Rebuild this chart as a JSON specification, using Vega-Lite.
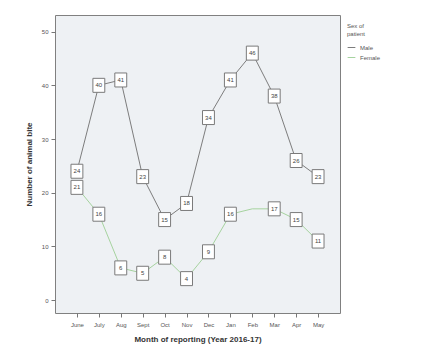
{
  "$schema": "https://vega.github.io/schema/vega-lite/v6.json",
  "width": 285,
  "height": 298,
  "autosize": {"type": "none"},
  "padding": {"left": 55, "top": 15, "right": 104, "bottom": 47},
  "background": "#ffffff",
  "config": {
    "view": {"fill": "#eef1f4", "stroke": "#808080", "strokeWidth": 1},
    "font": "Liberation Sans",
    "axis": {"grid": false, "domain": false, "tickColor": "#777777", "tickSize": 4, "labelFontSize": 6, "labelColor": "#555555", "titleFontSize": 8, "titleFontWeight": "bold", "titleColor": "#333333"}
  },
  "data": {
    "values": [
      {"month": "June", "sex": "Male", "n": 24},
      {"month": "July", "sex": "Male", "n": 40},
      {"month": "Aug", "sex": "Male", "n": 41},
      {"month": "Sept", "sex": "Male", "n": 23},
      {"month": "Oct", "sex": "Male", "n": 15},
      {"month": "Nov", "sex": "Male", "n": 18},
      {"month": "Dec", "sex": "Male", "n": 34},
      {"month": "Jan", "sex": "Male", "n": 41},
      {"month": "Feb", "sex": "Male", "n": 46},
      {"month": "Mar", "sex": "Male", "n": 38},
      {"month": "Apr", "sex": "Male", "n": 26},
      {"month": "May", "sex": "Male", "n": 23},
      {"month": "June", "sex": "Female", "n": 21},
      {"month": "July", "sex": "Female", "n": 16},
      {"month": "Aug", "sex": "Female", "n": 6},
      {"month": "Sept", "sex": "Female", "n": 5},
      {"month": "Oct", "sex": "Female", "n": 8},
      {"month": "Nov", "sex": "Female", "n": 4},
      {"month": "Dec", "sex": "Female", "n": 9},
      {"month": "Jan", "sex": "Female", "n": 16},
      {"month": "Feb", "sex": "Female", "n": 17},
      {"month": "Mar", "sex": "Female", "n": 17},
      {"month": "Apr", "sex": "Female", "n": 15},
      {"month": "May", "sex": "Female", "n": 11}
    ]
  },
  "encoding": {
    "x": {
      "field": "month", "type": "ordinal",
      "sort": ["June", "July", "Aug", "Sept", "Oct", "Nov", "Dec", "Jan", "Feb", "Mar", "Apr", "May"],
      "scale": {"type": "point", "padding": 1.22},
      "axis": {"title": "Month of reporting (Year 2016-17)", "labelAngle": 0, "labelPadding": 4, "titlePadding": 8}
    },
    "y": {
      "field": "n", "type": "quantitative",
      "scale": {"domain": [-2.4, 53.1], "nice": false, "zero": false},
      "axis": {"title": "Number of animal bite", "values": [0, 10, 20, 30, 40, 50], "labelPadding": 3, "titlePadding": 8}
    }
  },
  "layer": [
    {
      "mark": {"type": "line", "strokeWidth": 1},
      "encoding": {
        "color": {
          "field": "sex", "type": "nominal",
          "scale": {"domain": ["Male", "Female"], "range": ["#7d7d7d", "#a6d39f"]},
          "legend": {
            "title": ["Sex of", "patient"], "orient": "none", "legendX": 292, "legendY": 8,
            "symbolType": "stroke", "symbolSize": 60, "symbolStrokeWidth": 1,
            "titleFontSize": 6, "titleFontWeight": "normal", "titleColor": "#555555",
            "labelFontSize": 6, "labelColor": "#555555", "rowPadding": 2, "titlePadding": 6
          }
        }
      }
    },
    {
      "transform": [{"filter": "!(datum.month === 'Feb' && datum.sex === 'Female')"}],
      "mark": {"type": "point", "shape": "M-0.85,-1L0.85,-1L0.85,1L-0.85,1Z", "size": 196, "filled": true, "fill": "#ffffff", "stroke": "#7a7a7a", "strokeWidth": 1, "opacity": 1}
    },
    {
      "transform": [{"filter": "!(datum.month === 'Feb' && datum.sex === 'Female')"}],
      "mark": {"type": "text", "fontSize": 6, "color": "#444444", "baseline": "middle", "align": "center"},
      "encoding": {"text": {"field": "n", "type": "quantitative"}}
    }
  ]
}
